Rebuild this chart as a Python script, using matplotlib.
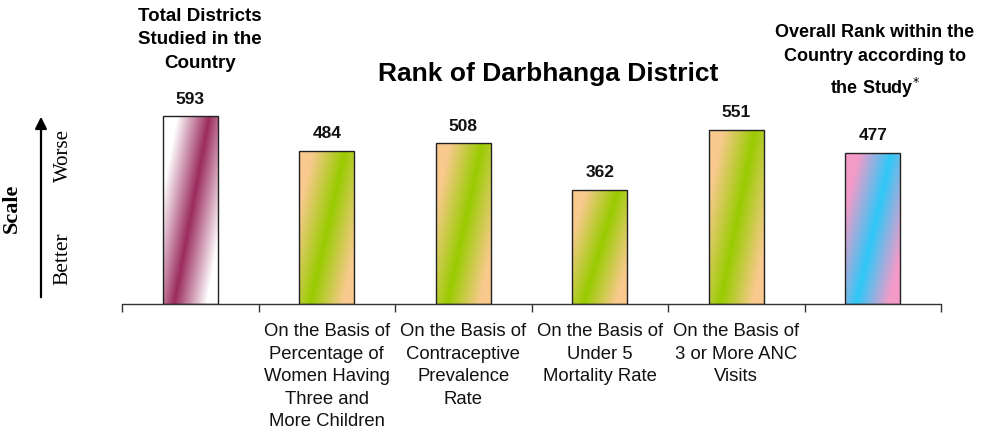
import numpy as np
import matplotlib
matplotlib.use("Agg")
import matplotlib.pyplot as plt
from matplotlib.colors import LinearSegmentedColormap

plt.rcParams["font.family"] = ["Liberation Sans", "DejaVu Sans"]

ranks = [593, 484, 508, 362, 551, 477]
labels = ["", "On the Basis of\nPercentage of\nWomen Having\nThree and\nMore Children",
          "On the Basis of\nContraceptive\nPrevalence\nRate",
          "On the Basis of\nUnder 5\nMortality Rate",
          "On the Basis of\n3 or More ANC\nVisits", ""]
# gradient: edge colour, band colour
grads = [("#ffffff", "#9b2b5e"), ("#f9c98e", "#99cc00"), ("#f9c98e", "#99cc00"),
         ("#f9c98e", "#99cc00"), ("#f9c98e", "#99cc00"), ("#f49ac8", "#2ec8f8")]

W, H = 981, 445
fig = plt.figure(figsize=(W / 100, H / 100), dpi=100)
ax = fig.add_axes([122 / W, 141 / H, 819 / W, 253 / H])

x = np.arange(len(ranks)) + 0.5
bars = ax.bar(x, ranks, width=0.4, facecolor="none", edgecolor="#222222", lw=1.0, zorder=3)

u, v = np.meshgrid(np.linspace(0, 1, 60), np.linspace(0, 1, 200))
s = u - (0.2 + 0.65 * v)
for b, (c_edge, c_band) in zip(bars, grads):
    cmap = LinearSegmentedColormap.from_list("g", [c_edge, c_band, c_edge])
    x0, w, h = b.get_x(), b.get_width(), b.get_height()
    im = ax.imshow(s, cmap=cmap, vmin=-0.6, vmax=0.6, origin="lower", aspect="auto",
                   extent=(x0, x0 + w, 0, h), zorder=2, interpolation="bilinear")
    im.set_clip_path(b)
    ax.annotate(str(b.get_height()), (x0 + w / 2, h), xytext=(0, 7), textcoords="offset points",
                ha="center", va="bottom", fontsize=12.5, fontweight="bold", color="#111111")

ax.set_xlim(0, 6)
ax.set_ylim(0, 800)
ax.set_xticks(np.arange(0, 7))
ax.set_xticklabels([])
ax.set_xticks(x, minor=True)
ax.set_xticklabels(labels, minor=True, fontsize=13.3, linespacing=1.42, va="top", color="#111111")
ax.tick_params(axis="x", which="major", length=6, width=1, color="#333333", direction="out")
ax.tick_params(axis="x", which="minor", length=0, pad=14)
ax.set_yticks([])
for sp in ["top", "right", "left"]:
    ax.spines[sp].set_visible(False)
ax.spines["bottom"].set_color("#333333")
ax.spines["bottom"].set_linewidth(1.0)

fig.text(548 / W, 1 - 74 / H, "Rank of Darbhanga District", ha="center", va="center",
         fontsize=19, fontweight="bold")
fig.text(200 / W, 1 - 40 / H, "Total Districts\nStudied in the\nCountry", ha="center", va="center",
         fontsize=13.5, fontweight="bold", linespacing=1.52)
fig.text(875 / W, 1 - 62 / H, "Overall Rank within the\nCountry according to\nthe Study$^{*}$",
         ha="center", va="center", fontsize=13, fontweight="bold", linespacing=1.6)

# scale arrow
fig.add_artist(matplotlib.patches.FancyArrowPatch((41 / W, 1 - 300 / H), (41 / W, 1 - 114 / H),
               transform=fig.transFigure, arrowstyle="-|>,head_length=7,head_width=3.5",
               color="black", lw=1.6))
serif = ["Liberation Serif", "DejaVu Serif"]
fig.text(12 / W, 1 - 208 / H, "Scale", rotation=90, ha="center", va="center",
         fontsize=16, fontweight="bold", family=serif)
fig.text(63 / W, 1 - 155 / H, "Worse", rotation=90, ha="center", va="center",
         fontsize=15, family=serif)
fig.text(63 / W, 1 - 259 / H, "Better", rotation=90, ha="center", va="center",
         fontsize=15.5, family=serif)

fig.savefig("out.png", dpi=100)
